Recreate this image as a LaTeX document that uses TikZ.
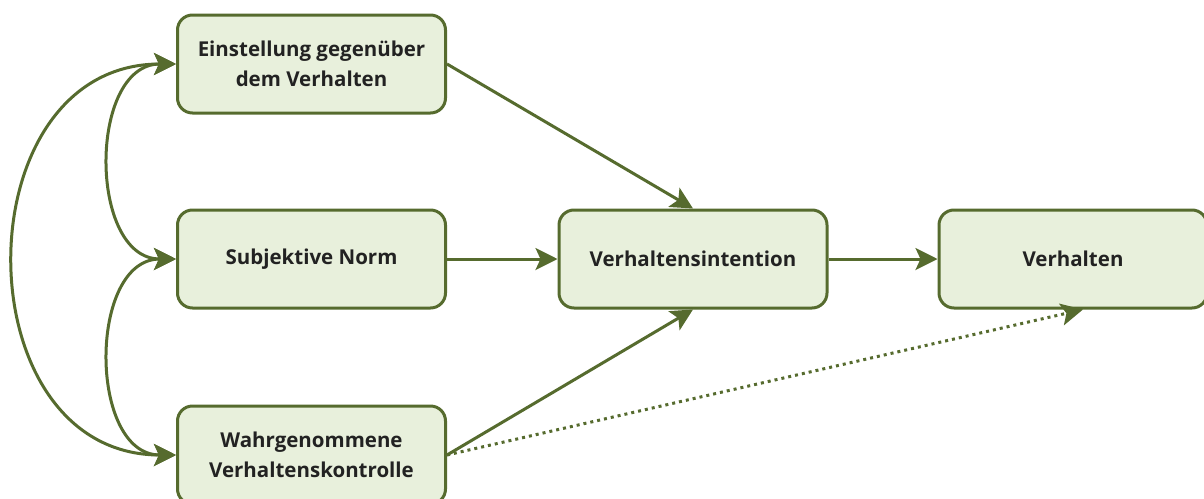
\documentclass[tikz,border=0pt]{standalone}
\usepackage{fontspec}
\setmainfont{Open Sans}
\usetikzlibrary{arrows.meta}
\definecolor{olive}{HTML}{566B2E}
\definecolor{boxfill}{HTML}{E8F0DC}
\definecolor{ink}{HTML}{222222}
\begin{document}
\begin{tikzpicture}[x=1pt,y=-1pt,
  >={Stealth[length=22pt,width=22pt,inset=5pt]},
  box/.style={draw=olive, line width=3pt, fill=boxfill, rounded corners=15pt,
    minimum width=268pt, minimum height=98pt, align=center, inner sep=0pt,
    text=ink, font=\fontsize{20.5}{30}\selectfont\bfseries},
  conn/.style={draw=olive, line width=3pt, ->},
  both/.style={draw=olive, line width=3pt, <->},
  dotconn/.style={draw=olive, line width=3pt, ->, dash pattern=on 3pt off 4pt}]
\useasboundingbox (0,0) rectangle (1204,498);
\clip (0,0) rectangle (1204,498);

% factors and outcomes
\node[box] (einst) at (311.5,64)  {Einstellung gegenüber\\dem Verhalten};
\node[box] (norm)  at (311.5,259) {Subjektive Norm};
\node[box] (wahr)  at (311.5,455) {Wahrgenommene\\Verhaltenskontrolle};
\node[box] (int)   at (693,259)   {Verhaltensintention};
\node[box] (verh)  at (1073,259)  {Verhalten};

\coordinate (verhin) at ([xshift=10pt]verh.south);

% direct paths
\draw[conn] (einst.east) -- (int.north);
\draw[conn] (norm.east) -- (int.west);
\draw[conn] (wahr.east) -- (int.south);
\draw[conn] (int.east) -- (verh.west);
\draw[dotconn] (wahr.east) -- (verhin);

% correlations between the factors
\draw[both] (einst.west) .. controls +(-88,0) and +(-88,0) .. (norm.west);
\draw[both] (norm.west) .. controls +(-88,0) and +(-88,0) .. (wahr.west);
\draw[both] (einst.west) .. controls +(-215,0) and +(-215,0) .. (wahr.west);
\end{tikzpicture}
\end{document}
